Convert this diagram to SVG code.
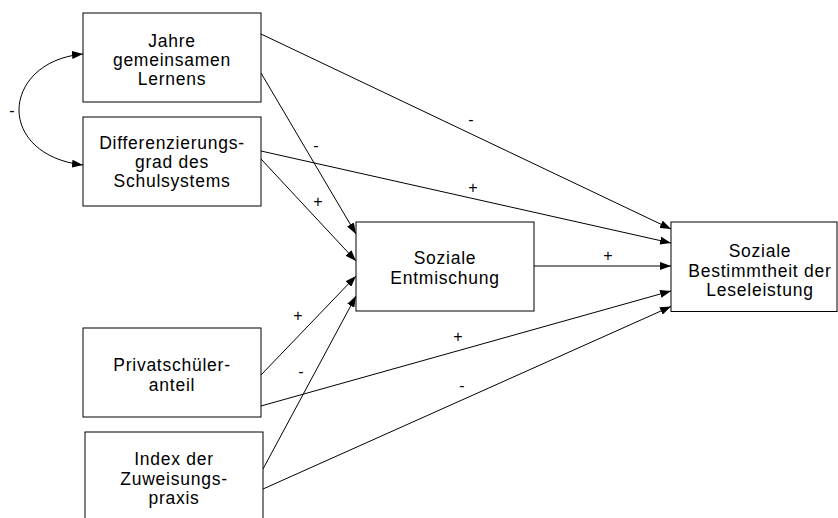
<svg xmlns="http://www.w3.org/2000/svg" width="838" height="518" viewBox="0 0 838 518">
<defs>
<style>
.box{fill:#fff;stroke:#000;stroke-width:1}
.t{font-family:"Liberation Sans",Arial,sans-serif;font-size:17.5px;letter-spacing:0.75px;fill:#000;text-anchor:middle}
.l{font-family:"Liberation Sans",Arial,sans-serif;font-size:16px;fill:#000;text-anchor:middle}
.c{fill:none;stroke:#000;stroke-width:1}
</style>
<marker id="ah" markerUnits="userSpaceOnUse" markerWidth="12" markerHeight="8" refX="11" refY="4" orient="auto">
<path d="M0,0 L11,4 L0,8 z" fill="#000"/>
</marker>
</defs>
<rect width="838" height="518" fill="#fff"/>
<g id="connectors">
<path class="c" d="M19,110 C19,85 40,58 83,54" marker-end="url(#ah)"/>
<path class="c" d="M19,110 C19,135 40,160 83,165" marker-end="url(#ah)"/>
<line class="c" x1="261" y1="34" x2="671" y2="229" marker-end="url(#ah)"/>
<line class="c" x1="261" y1="73" x2="356" y2="234" marker-end="url(#ah)"/>
<line class="c" x1="261" y1="151" x2="671" y2="243" marker-end="url(#ah)"/>
<line class="c" x1="261" y1="159" x2="356" y2="261" marker-end="url(#ah)"/>
<line class="c" x1="261" y1="375" x2="356" y2="276" marker-end="url(#ah)"/>
<line class="c" x1="263" y1="469" x2="356" y2="296" marker-end="url(#ah)"/>
<line class="c" x1="534" y1="266" x2="671" y2="266" marker-end="url(#ah)"/>
<line class="c" x1="261" y1="406" x2="671" y2="291" marker-end="url(#ah)"/>
<line class="c" x1="263" y1="489" x2="671" y2="306.5" marker-end="url(#ah)"/>
<text class="l" x="12" y="116">-</text>
<text class="l" x="471" y="125">-</text>
<text class="l" x="316" y="151">-</text>
<text class="l" x="473" y="193">+</text>
<text class="l" x="318" y="206.5">+</text>
<text class="l" x="298" y="320.5">+</text>
<text class="l" x="301" y="377">-</text>
<text class="l" x="608" y="260.5">+</text>
<text class="l" x="458" y="342">+</text>
<text class="l" x="462" y="391">-</text>
</g>
<g id="n-jahre">
<rect class="box" x="83" y="13" width="178" height="89"/>
<text class="t" x="172" y="47">Jahre</text>
<text class="t" x="172" y="66">gemeinsamen</text>
<text class="t" x="172" y="85">Lernens</text>
</g>
<g id="n-diff">
<rect class="box" x="83" y="117" width="178" height="89"/>
<text class="t" x="172" y="149">Differenzierungs-</text>
<text class="t" x="172" y="168">grad des</text>
<text class="t" x="172" y="187">Schulsystems</text>
</g>
<g id="n-privat">
<rect class="box" x="83" y="328" width="178" height="89"/>
<text class="t" x="172" y="371">Privatschüler-</text>
<text class="t" x="172" y="391">anteil</text>
</g>
<g id="n-index">
<rect class="box" x="85" y="432" width="178" height="89"/>
<text class="t" x="174" y="465">Index der</text>
<text class="t" x="174" y="485">Zuweisungs-</text>
<text class="t" x="174" y="504">praxis</text>
</g>
<g id="n-entmischung">
<rect class="box" x="356" y="222" width="178" height="89"/>
<text class="t" x="445" y="264">Soziale</text>
<text class="t" x="445" y="284">Entmischung</text>
</g>
<g id="n-bestimmtheit">
<rect class="box" x="671" y="222" width="166" height="89.5"/>
<text class="t" x="760" y="257">Soziale</text>
<text class="t" x="760" y="277">Bestimmtheit der</text>
<text class="t" x="760" y="296">Leseleistung</text>
</g>
</svg>
